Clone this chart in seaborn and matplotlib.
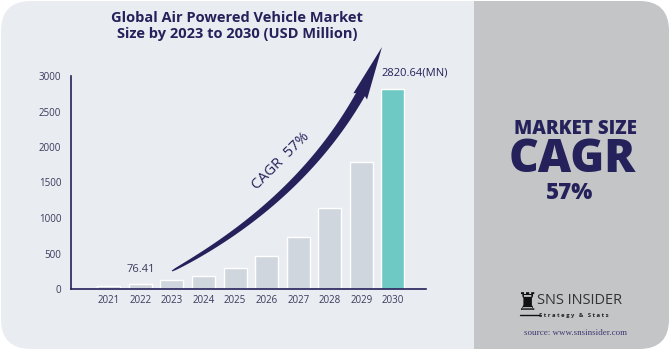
import numpy as np
import pandas as pd
import seaborn as sns
import matplotlib.pyplot as plt
from matplotlib.patches import FancyBboxPatch, Rectangle, Polygon

# market size, USD million
years = ["2021", "2022", "2023", "2024", "2025", "2026", "2027", "2028", "2029", "2030"]
values = [48, 76.41, 120, 188, 295, 463, 727, 1142, 1793, 2820.64]
bar_colors = ["#d0d6de"] * 9 + ["#6ec9c4"]
yticks = [0, 500, 1000, 1500, 2000, 2500, 3000]

NAVY = "#25215a"
LIGHT = "#e9ecf1"
GREY = "#c4c5c7"

sns.set_theme(style="white")
plt.rcParams["font.family"] = ["Open Sans", "DejaVu Sans"]

df = pd.DataFrame({"year": years, "value": values})

fig = plt.figure(figsize=(6.7, 3.5), dpi=100)
fig.patch.set_facecolor("white")

# background layer in pixel coords
bg = fig.add_axes([0, 0, 1, 1], zorder=0)
bg.set_xlim(0, 670)
bg.set_ylim(350, 0)
bg.axis("off")
card = FancyBboxPatch((1, 1), 668, 348, boxstyle="round,pad=0,rounding_size=30",
                      fc=LIGHT, ec="none", transform=bg.transData)
bg.add_patch(card)
side = Rectangle((474, 0), 200, 350, fc=GREY, ec="none")
bg.add_patch(side)
side.set_clip_path(card)

# curved CAGR arrow
p0, c, p2 = np.array([172, 271]), np.array([302, 201]), np.array([363, 90])
t = np.linspace(0, 1, 80)
pts = ((1 - t) ** 2)[:, None] * p0 + (2 * (1 - t) * t)[:, None] * c + (t ** 2)[:, None] * p2
d = 2 * (1 - t)[:, None] * (c - p0) + 2 * t[:, None] * (p2 - c)
d = d / np.linalg.norm(d, axis=1)[:, None]
nrm = np.column_stack([-d[:, 1], d[:, 0]])
w = 0.5 + 4.2 * np.sqrt(t)
body = np.vstack([pts + nrm * w[:, None], (pts - nrm * w[:, None])[::-1]])
bg.add_patch(Polygon(body, closed=True, fc=NAVY, ec="none"))
tip = np.array([382, 47])
hd = (tip - p2) / np.linalg.norm(tip - p2)
hn = np.array([-hd[1], hd[0]])
head = [tip, p2 - hd * 7 + hn * 7.5, p2 - hd * 2, p2 - hd * 7 - hn * 7.5]
bg.add_patch(Polygon(head, closed=True, fc=NAVY, ec="none"))
bg.text(281, 161, "CAGR  57%", rotation=45, ha="center", va="center",
        fontsize=10.5, color=NAVY, fontweight="medium", rotation_mode="anchor")

# title
bg.text(237, 26, "Global Air Powered Vehicle Market\nSize by 2023 to 2030 (USD Million)",
        ha="center", va="center", fontsize=10.5, fontweight="bold", color=NAVY,
        linespacing=1.2)

# right panel
bg.text(575, 134, "MARKET SIZE", ha="center", va="baseline", fontsize=13.5,
        fontweight="heavy", color=NAVY)
bg.text(572, 172, "CAGR", ha="center", va="baseline", fontsize=33,
        fontweight="heavy", color=NAVY)
bg.text(570, 199, "57%", ha="center", va="baseline", fontsize=16,
        fontweight="heavy", color=NAVY)

# logo
bg.text(527, 303, "\u265c", ha="center", va="center", fontsize=17, color="#111111",
        family=["DejaVu Sans"])
bg.plot([520, 540], [315, 315], color="#111111", lw=1)
bg.text(537, 300, "SNS INSIDER", ha="left", va="center", fontsize=10.5, color="#333333")
bg.text(539, 315, "S t r a t e g y   &   S t a t s", ha="left", va="center",
        fontsize=4.2, color="#222222", fontweight="bold")
bg.text(575, 333, "source: www.snsinsider.com", ha="center", va="center", fontsize=6.5,
        color="#3b3a72", family=["Liberation Serif", "DejaVu Serif"])

# chart
ax = fig.add_axes([71 / 670, 61 / 350, 355 / 670, 213 / 350], zorder=1)
ax.patch.set_alpha(0)
sns.barplot(data=df, x="year", y="value", hue="year", palette=bar_colors,
            legend=False, width=0.73, ax=ax, saturation=1)
ax.set_xlim(-1.2, 10.05)
ax.set_ylim(0, 3000)
ax.set_yticks(yticks)
ax.set_yticklabels([str(v) for v in yticks])
ax.set_xlabel("")
ax.set_ylabel("")
ax.tick_params(axis="both", length=0, labelsize=7, labelcolor="#3a3a5c")
ax.tick_params(axis="y", pad=7)
ax.tick_params(axis="x", pad=4)
sns.despine(ax=ax)
for s in ["left", "bottom"]:
    ax.spines[s].set_color(NAVY)
    ax.spines[s].set_linewidth(1.2)

ax.text(1, values[1] + 120, f"{values[1]:.2f}", ha="center", va="bottom",
        fontsize=8, color="#3a3a5c")
ax.text(9.7, 2960, f"{values[-1]:.2f}(MN)", ha="center", va="bottom",
        fontsize=8, color=NAVY)

fig.savefig("out.png", dpi=100, facecolor="white")
